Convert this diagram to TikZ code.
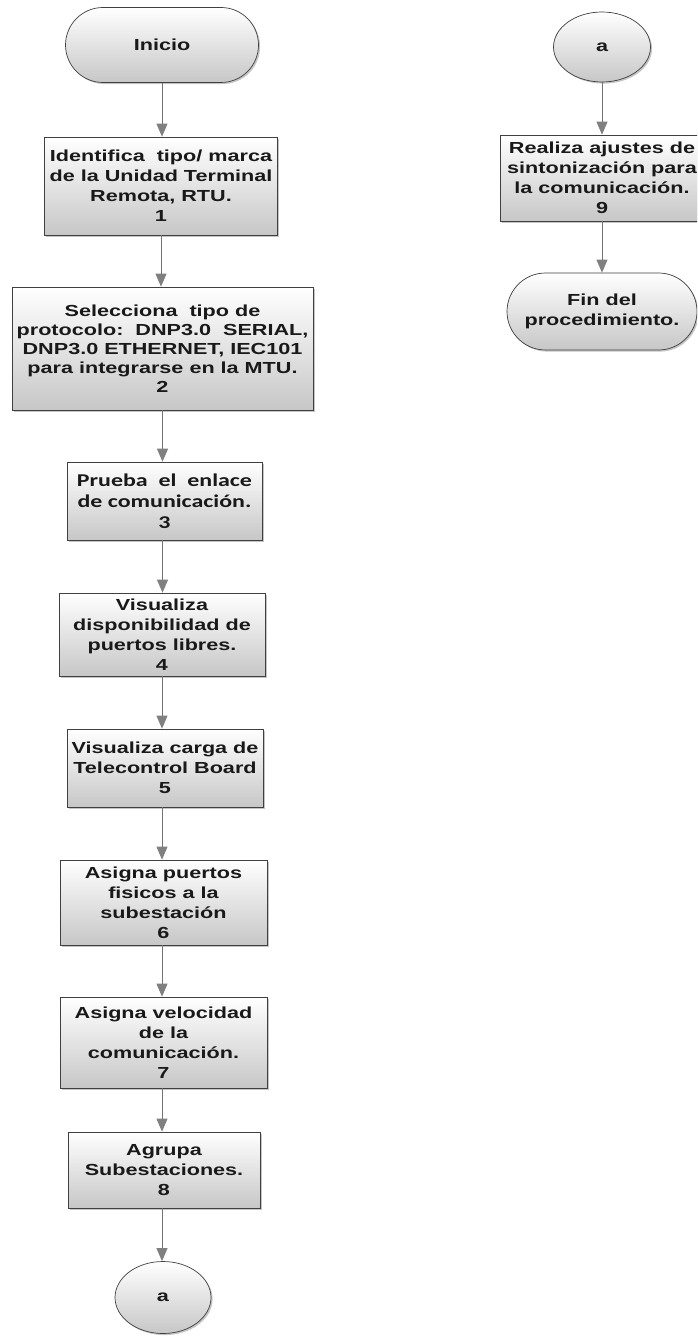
\documentclass[tikz,border=0pt]{standalone}
\usepackage{fontspec}
\setmainfont{Liberation Sans}[FakeStretch=1.35]
\newfontfamily\calfont{Carlito}[FakeStretch=1.33]
\usetikzlibrary{shapes.misc,shapes.geometric,shadows,arrows.meta}
\begin{document}
\begin{tikzpicture}[x=1pt,y=1pt,
  base/.style={draw=black!75, line width=0.7pt, top color=white, bottom color=black!22,
    drop shadow={shadow xshift=1.6pt, shadow yshift=-1.6pt, opacity=0.45},
    font=\bfseries\fontsize{16}{20}\selectfont, align=center, inner sep=0pt, text=black!90},
  proc/.style={base, rectangle},
  term/.style={base, rounded rectangle},
  conn/.style={base, ellipse},
  flow/.style={draw=black!55, line width=0.8pt, -{Triangle[length=13pt,width=11pt,fill=black!50,color=black!50]}}
]
\useasboundingbox (0,0) rectangle (697,-1337);
\begin{scope}
\clip (0,0) rectangle (697,-1337);
\fill[white] (0,0) rectangle (697,-1337);

\node[term, minimum width=193pt, minimum height=75pt] (ini) at (162,-45) {Inicio};
\node[proc, minimum width=233pt, minimum height=98pt] (p1) at (161,-186)
  {Identifica\ \ tipo/ marca\\de la Unidad Terminal\\Remota, RTU.\\1};
\node[proc, minimum width=301pt, minimum height=123pt, font=\bfseries\fontsize{16}{19}\selectfont] (p2) at (162.5,-348.5)
  {Selecciona\ \ tipo de\\protocolo:\ \ DNP3.0\ \ SERIAL,\\DNP3.0 ETHERNET, IEC101\\para integrarse en la MTU.\\2};
\node[proc, minimum width=195pt, minimum height=78pt, font=\calfont\bfseries\fontsize{18}{21}\selectfont] (p3) at (164.5,-501)
  {Prueba\ \ el\ \ enlace\\de comunicación.\\3};
\node[proc, minimum width=206pt, minimum height=83pt] (p4) at (162,-634.5)
  {Visualiza\\disponibilidad de\\puertos libres.\\4};
\node[proc, minimum width=196pt, minimum height=78pt] (p5) at (165,-768)
  {Visualiza carga de\\Telecontrol Board\\5};
\node[proc, minimum width=207pt, minimum height=85pt] (p6) at (163.5,-902.5)
  {Asigna puertos\\fisicos a la\\subestación\\6};
\node[proc, minimum width=207pt, minimum height=91pt] (p7) at (163.5,-1042.5)
  {Asigna velocidad\\de la\\comunicación.\\7};
\node[proc, minimum width=192pt, minimum height=76pt] (p8) at (164,-1170)
  {Agrupa\\Subestaciones.\\8};
\node[conn, minimum width=96pt, minimum height=72pt] (a1) at (163,-1297.5) {a};

\node[conn, minimum width=97pt, minimum height=70pt] (a2) at (602,-47) {a};
\node[proc, minimum width=204pt, minimum height=86pt] (p9) at (602,-178)
  {Realiza ajustes de\\sintonización para\\la comunicación.\\9};
\node[term, minimum width=190pt, minimum height=77pt] (fin) at (602,-311.5)
  {Fin del\\procedimiento.};

\draw[flow] (ini.south) -- (ini.south |- p1.north);
\draw[flow] (p1.south) -- (p1.south |- p2.north);
\draw[flow] (p2.south) -- (p2.south |- p3.north);
\draw[flow] (p3.south -| p2.south) -- (p2.south |- p4.north);
\draw[flow] (p4.south) -- (p4.south |- p5.north);
\draw[flow] (p5.south -| p4.south) -- (p4.south |- p6.north);
\draw[flow] (p6.south -| p4.south) -- (p4.south |- p7.north);
\draw[flow] (p7.south -| p4.south) -- (p4.south |- p8.north);
\draw[flow] (p8.south -| p4.south) -- (p4.south |- a1.north);
\draw[flow] (a2.south) -- (a2.south |- p9.north);
\draw[flow] (p9.south) -- (p9.south |- fin.north);
\end{scope}
\end{tikzpicture}
\end{document}
